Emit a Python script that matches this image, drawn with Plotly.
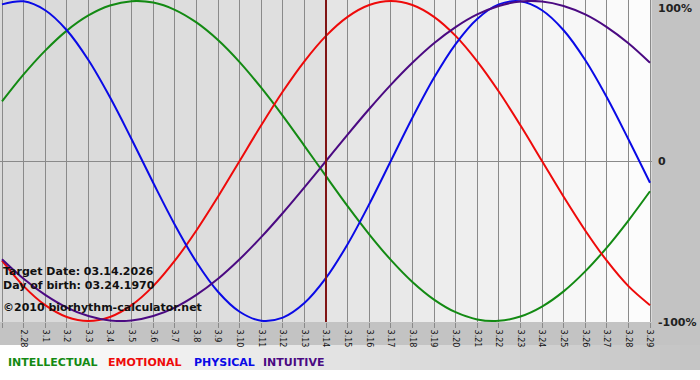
import plotly.graph_objects as go

days = ["2.27", "2.28", "3.1", "3.2", "3.3", "3.4", "3.5", "3.6", "3.7", "3.8", "3.9",
        "3.10", "3.11", "3.12", "3.13", "3.14", "3.15", "3.16", "3.17", "3.18", "3.19",
        "3.20", "3.21", "3.22", "3.23", "3.24", "3.25", "3.26", "3.27", "3.28", "3.29"]

intellectual = [0.372, 0.541, 0.690, 0.815, 0.910, 0.972, 0.999, 0.990, 0.945, 0.866, 0.756,
                0.618, 0.458, 0.282, 0.095, -0.095, -0.282, -0.458, -0.618, -0.756, -0.866,
                -0.945, -0.990, -0.999, -0.972, -0.910, -0.815, -0.690, -0.541, -0.372, -0.189]
emotional = [-0.623, -0.782, -0.901, -0.975, -1.0, -0.975, -0.901, -0.782, -0.623, -0.434, -0.223,
             0.0, 0.223, 0.434, 0.623, 0.782, 0.901, 0.975, 1.0, 0.975, 0.901,
             0.782, 0.623, 0.434, 0.223, 0.0, -0.223, -0.434, -0.623, -0.782, -0.901]
physical = [0.979, 0.998, 0.942, 0.817, 0.631, 0.398, 0.136, -0.136, -0.398, -0.631, -0.817,
            -0.942, -0.998, -0.979, -0.888, -0.731, -0.520, -0.270, 0.0, 0.270, 0.520,
            0.731, 0.888, 0.979, 0.998, 0.942, 0.817, 0.631, 0.398, 0.136, -0.136]
intuitive = [-0.614, -0.736, -0.837, -0.916, -0.969, -0.997, -0.997, -0.969, -0.916, -0.837, -0.736,
             -0.614, -0.476, -0.325, -0.165, 0.0, 0.165, 0.325, 0.476, 0.614, 0.736,
             0.837, 0.916, 0.969, 0.997, 0.997, 0.969, 0.916, 0.837, 0.736, 0.614]

target_day = "3.14"
right_labels = ["100%", "0", "-100%"]
legend_names = ["INTELLECTUAL", "EMOTIONAL", "PHYSICAL", "INTUITIVE"]
colors = ["#138a13", "#ee0a0a", "#0a0ae6", "#4b0a82"]
info = ["Target Date: 03.14.2026", "Day of birth: 03.24.1970", "\u00a92010 biorhythm-calculator.net"]

W, H = 700, 380
PW, PH = 652, 322

def px(xp):
    return xp / PW

def py(yp):
    return (PH - yp) / PH

x = list(range(len(days)))
fig = go.Figure()
series = [intellectual, emotional, physical, intuitive]
for name, vals, c in zip(legend_names, series, colors):
    fig.add_trace(go.Scatter(x=x, y=vals, mode="lines", name=name,
                             line=dict(color=c, width=2, shape="spline", smoothing=1.0),
                             showlegend=False, hoverinfo="skip"))

shapes = []
ti = days.index(target_day)
n = len(days) - 1
# background column shading
for i in range(n):
    if i < ti:
        g = int(218 + 6 * i / max(ti - 1, 1))
    else:
        g = int(229 + 23 * (i - ti) / max(n - 1 - ti, 1))
    shapes.append(dict(type="rect", xref="x", yref="paper", x0=i, x1=i + 1, y0=0, y1=1,
                       fillcolor=f"rgb({g},{g},{g})", line=dict(width=0), layer="below"))
# legend strip gradient
steps = 35
for k in range(steps):
    g = int(255 - 58 * k / (steps - 1))
    shapes.append(dict(type="rect", xref="paper", yref="paper",
                       x0=px(k * W / steps), x1=px((k + 1) * W / steps + 0.5),
                       y0=py(370), y1=py(345), fillcolor=f"rgb({g},{g},{g})",
                       line=dict(width=0), layer="below"))
shapes.append(dict(type="rect", xref="paper", yref="paper", x0=px(0), x1=px(W),
                   y0=py(381), y1=py(370), fillcolor="white", line=dict(width=0), layer="below"))
# target marker
shapes.append(dict(type="line", xref="x", yref="paper", x0=ti, x1=ti, y0=0, y1=1,
                   line=dict(color="#801414", width=2), layer="above"))

annotations = []
for t, yp in zip(info, [271, 285, 307]):
    annotations.append(dict(text=t, xref="paper", yref="paper", x=px(1), y=py(yp),
                            xanchor="left", yanchor="middle", showarrow=False,
                            font=dict(family="DejaVu Sans", size=11, color="#111111", weight="bold")))
for t, yp in zip(right_labels, [8, 162, 322]):
    annotations.append(dict(text=t, xref="paper", yref="paper", x=px(656), y=py(yp),
                            xanchor="left", yanchor="middle", showarrow=False,
                            font=dict(family="DejaVu Sans", size=11, color="#222222", weight="bold")))
for t, xp, c in zip(legend_names, [6, 106, 192, 261], colors):
    annotations.append(dict(text=t, xref="paper", yref="paper", x=px(xp), y=py(362),
                            xanchor="left", yanchor="middle", showarrow=False,
                            font=dict(family="DejaVu Sans", size=11, color=c, weight="bold")))

fig.update_layout(
    width=W, height=H,
    margin=dict(l=0, r=W - PW, t=0, b=H - PH),
    paper_bgcolor="#c3c3c3",
    plot_bgcolor="#dadada",
    shapes=shapes,
    annotations=annotations,
    xaxis=dict(range=[-2 / 21.6, n + 2 / 21.6], tickmode="array", tickvals=x, ticktext=days,
               tickangle=90, showgrid=True, gridcolor="#8a8a8a", gridwidth=1,
               ticks="outside", ticklen=5, tickcolor="#8a8a8a", zeroline=False,
               tickfont=dict(family="DejaVu Sans", size=8, color="#111111"),
               showline=False, fixedrange=True),
    yaxis=dict(range=[-1.00625, 1.00625], showgrid=False, showticklabels=False,
               zeroline=True, zerolinecolor="#8a8a8a", zerolinewidth=1, ticks="",
               fixedrange=True),
)

fig.write_html("out.html")
